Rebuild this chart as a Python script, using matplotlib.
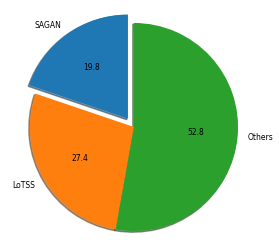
import matplotlib
matplotlib.use("Agg")
import matplotlib.pyplot as plt

labels = ["SAGAN", "LoTSS", "Others"]
shares = [19.8, 27.4, 52.8]
explode = [0.1, 0, 0]

fig = plt.figure(figsize=(2.79, 2.43), dpi=100)
ax = fig.add_axes([0, 0, 1, 1])
ax.pie(shares, labels=labels, explode=explode, autopct="%.1f",
       shadow={"ox": -0.008, "oy": -0.008, "shade": 0.6},
       startangle=90, textprops={"fontsize": 5.5})
ax.set_aspect("equal")
ax.set_xlim(-1.288, 1.394)
ax.set_ylim(-1.115, 1.221)
ax.axis("off")
fig.savefig("out.png", dpi=100)
